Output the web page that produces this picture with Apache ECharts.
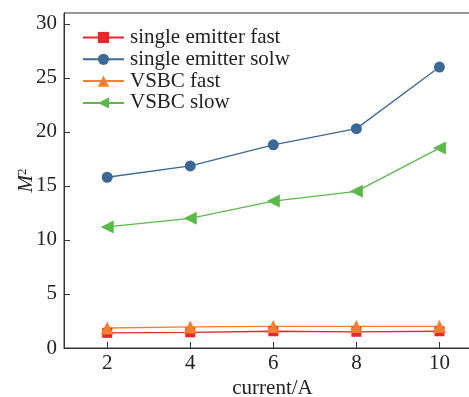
<!DOCTYPE html>
<html><head><meta charset="utf-8">
<script src="https://cdn.jsdelivr.net/npm/echarts@6/dist/echarts.min.js"></script>
<style>html,body{margin:0;padding:0;background:#fff}#c{width:469px;height:397px}</style>
</head><body><div id="c"></div>
<script>
const currents = [2, 4, 6, 8, 10];
const xTicks = [2, 4, 6, 8, 10];
const yTicks = [0, 5, 10, 15, 20, 25, 30];
const singleFast = [1.4, 1.45, 1.55, 1.5, 1.55];
const singleSlow = [15.8, 16.85, 18.8, 20.3, 26.0];
const vsbcFast = [1.85, 1.95, 2.0, 2.0, 2.0];
const vsbcSlow = [11.2, 12.0, 13.6, 14.5, 18.5];
const seriesNames = ['single emitter fast', 'single emitter solw', 'VSBC fast', 'VSBC slow'];

const font = '"Liberation Serif","DejaVu Serif",serif';
const pair = (arr) => currents.map((c, i) => [c, arr[i]]);
const mk = (name, data, color, symbol, size, rotate) => ({
  name, type: 'line', data: pair(data), symbol, symbolSize: size, symbolRotate: rotate || 0,
  itemStyle: { color }, lineStyle: { color, width: 1.3 }, emphasis: { disabled: true }
});

const chart = echarts.init(document.getElementById('c'));
chart.setOption({
  animation: false,
  grid: { left: 64, top: 13, right: -12, bottom: 49, show: true, borderColor: '#333', borderWidth: 1,
          containLabel: false, outerBoundsMode: 'none' },
  legend: {
    orient: 'vertical', left: 82, top: 27, padding: 0, itemWidth: 41, itemHeight: 14, itemGap: 0.8,
    textStyle: { fontFamily: font, fontSize: 21, lineHeight: 21, color: '#222', padding: [0, 0, 0, 1] },
    data: seriesNames
  },
  xAxis: {
    type: 'value', min: 0.96, max: 11,
    name: 'current/A', nameLocation: 'middle', nameGap: 30, nameMoveOverlap: false,
    nameTextStyle: { fontFamily: font, fontSize: 21, color: '#222' },
    axisLine: { lineStyle: { color: '#333' } },
    axisTick: { inside: true, length: 6, customValues: xTicks, lineStyle: { color: '#333' } },
    axisLabel: { customValues: xTicks, fontFamily: font, fontSize: 21, color: '#222', margin: 5 },
    splitLine: { show: false }
  },
  yAxis: {
    type: 'value', min: 0, max: 31,
    name: '{i|M}{s|2}', nameLocation: 'middle', nameGap: 27, nameRotate: 90, nameMoveOverlap: false,
    nameTextStyle: { rich: {
      i: { fontFamily: font, fontSize: 21, fontStyle: 'italic', color: '#222' },
      s: { fontFamily: font, fontSize: 13, color: '#222', verticalAlign: 'top', padding: [0,0,8,0] }
    } },
    axisLine: { show: true, lineStyle: { color: '#333' } },
    axisTick: { show: true, inside: true, length: 6, customValues: yTicks, lineStyle: { color: '#333' } },
    axisLabel: { customValues: yTicks, fontFamily: font, fontSize: 21, color: '#222', margin: 7 },
    splitLine: { show: false }
  },
  series: [
    mk(seriesNames[0], singleFast, '#e8262b', 'rect', 10),
    mk(seriesNames[1], singleSlow, '#3b6896', 'circle', 11),
    mk(seriesNames[2], vsbcFast, '#f47f2e', 'triangle', 13),
    mk(seriesNames[3], vsbcSlow, '#5bb94c', 'triangle', 13, 90)
  ]
});
</script></body></html>
